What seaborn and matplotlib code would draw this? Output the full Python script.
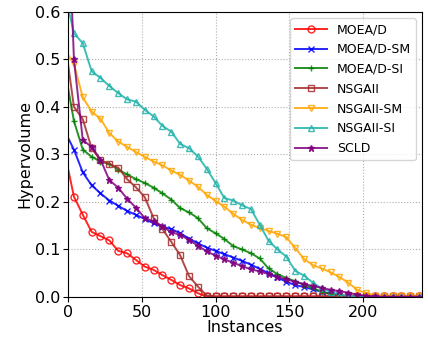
import numpy as np
import pandas as pd
import matplotlib
matplotlib.use("Agg")
import matplotlib.pyplot as plt
import seaborn as sns

# x positions of samples (instances)
instances = [0] + list(range(4, 241, 6))

moead = [0.27, 0.211, 0.173, 0.137, 0.128, 0.119, 0.097, 0.092, 0.078, 0.064,
         0.057, 0.046, 0.036, 0.025, 0.018, 0.008, 0.001, 0.001, 0.001, 0.001,
         0.001, 0.001, 0.001, 0.001, 0.001, 0.001, 0.001, 0.001, 0.001, 0.001,
         0.001, 0.001, 0.001, 0.001, 0.001, 0.001, 0.001, 0.001, 0.001, 0.001, 0.001]
moead_sm = [0.335, 0.31, 0.262, 0.235, 0.218, 0.203, 0.192, 0.181, 0.173, 0.164,
            0.155, 0.148, 0.143, 0.134, 0.123, 0.113, 0.104, 0.097, 0.09, 0.083,
            0.076, 0.068, 0.059, 0.05, 0.041, 0.032, 0.025, 0.021, 0.016, 0.011,
            0.007, 0.004, 0.001, 0.0, 0.0, 0.0, 0.0, 0.0, 0.0, 0.0, 0.0]
moead_si = [0.44, 0.37, 0.31, 0.295, 0.285, 0.28, 0.268, 0.258, 0.248, 0.24,
            0.23, 0.218, 0.205, 0.187, 0.178, 0.166, 0.145, 0.134, 0.122, 0.107,
            0.1, 0.092, 0.081, 0.06, 0.048, 0.04, 0.033, 0.026, 0.018, 0.011,
            0.006, 0.002, 0.0, 0.0, 0.0, 0.0, 0.0, 0.0, 0.0, 0.0, 0.0]
nsgaii = [0.49, 0.40, 0.374, 0.313, 0.288, 0.28, 0.272, 0.248, 0.231, 0.21,
          0.166, 0.143, 0.116, 0.088, 0.044, 0.022, 0.003, 0.001, 0.001, 0.001,
          0.001, 0.001, 0.001, 0.001, 0.001, 0.001, 0.001, 0.001, 0.001, 0.001,
          0.001, 0.001, 0.001, 0.001, 0.001, 0.001, 0.001, 0.001, 0.001, 0.001, 0.001]
nsgaii_sm = [0.51, 0.49, 0.42, 0.39, 0.375, 0.345, 0.327, 0.316, 0.305, 0.295,
             0.285, 0.277, 0.266, 0.257, 0.245, 0.232, 0.215, 0.202, 0.19, 0.175,
             0.162, 0.152, 0.145, 0.139, 0.133, 0.126, 0.103, 0.08, 0.067, 0.06,
             0.052, 0.042, 0.03, 0.015, 0.008, 0.003, 0.001, 0.001, 0.001, 0.001, 0.001]
nsgaii_si = [0.61, 0.555, 0.534, 0.475, 0.461, 0.444, 0.429, 0.416, 0.411, 0.394,
             0.38, 0.36, 0.348, 0.322, 0.313, 0.296, 0.27, 0.24, 0.208, 0.203,
             0.193, 0.185, 0.152, 0.118, 0.1, 0.085, 0.055, 0.045, 0.03, 0.018,
             0.011, 0.005, 0.002, 0.001, 0.0, 0.0, 0.0, 0.0, 0.0, 0.0, 0.0]
scld = [0.82, 0.5, 0.33, 0.316, 0.289, 0.246, 0.23, 0.207, 0.188, 0.166,
        0.159, 0.149, 0.136, 0.131, 0.12, 0.108, 0.096, 0.087, 0.079, 0.072,
        0.065, 0.058, 0.054, 0.048, 0.042, 0.037, 0.032, 0.027, 0.023, 0.019,
        0.015, 0.012, 0.009, 0.005, 0.002, 0.001, 0.0, 0.0, 0.0, 0.0, 0.0]

names = ["MOEA/D", "MOEA/D-SM", "MOEA/D-SI", "NSGAII", "NSGAII-SM", "NSGAII-SI", "SCLD"]
series = [moead, moead_sm, moead_si, nsgaii, nsgaii_sm, nsgaii_si, scld]
colors = ["red", "blue", "green", "brown", "orange", "lightseagreen", "purple"]
markers = ["o", "x", "+", "s", "v", "^", "*"]
filled = [False, True, True, False, False, False, True]

fig = plt.figure(figsize=(4.28, 3.39), dpi=100)
ax = fig.add_axes([0.159, 0.124, 0.827, 0.841])

for name, vals, c, m, f in zip(names, series, colors, markers, filled):
    df = pd.DataFrame({"Instances": instances, "Hypervolume": vals})
    sns.lineplot(data=df, x="Instances", y="Hypervolume", ax=ax, color=c,
                 marker=m, markersize=5, markevery=slice(1, None),
                 markerfacecolor=(c if f else "none"), markeredgecolor=c,
                 markeredgewidth=1.0, linewidth=1.4, alpha=0.85, label=name)

ax.set_xlim(0, 240)
ax.set_ylim(0, 0.6)
ax.set_xticks([0, 50, 100, 150, 200])
ax.set_yticks([0.0, 0.1, 0.2, 0.3, 0.4, 0.5, 0.6])
ax.grid(True, linestyle=":", color="#b0b0b0", linewidth=0.8)
ax.tick_params(labelsize=11.5, pad=2)
ax.set_xlabel("Instances", fontsize=11.5, labelpad=0)
ax.set_ylabel("Hypervolume", fontsize=11.5, labelpad=2)
ax.legend(loc="upper right", fontsize=9, handlelength=2.5, labelspacing=0.55)

fig.savefig("out.png", dpi=100)
